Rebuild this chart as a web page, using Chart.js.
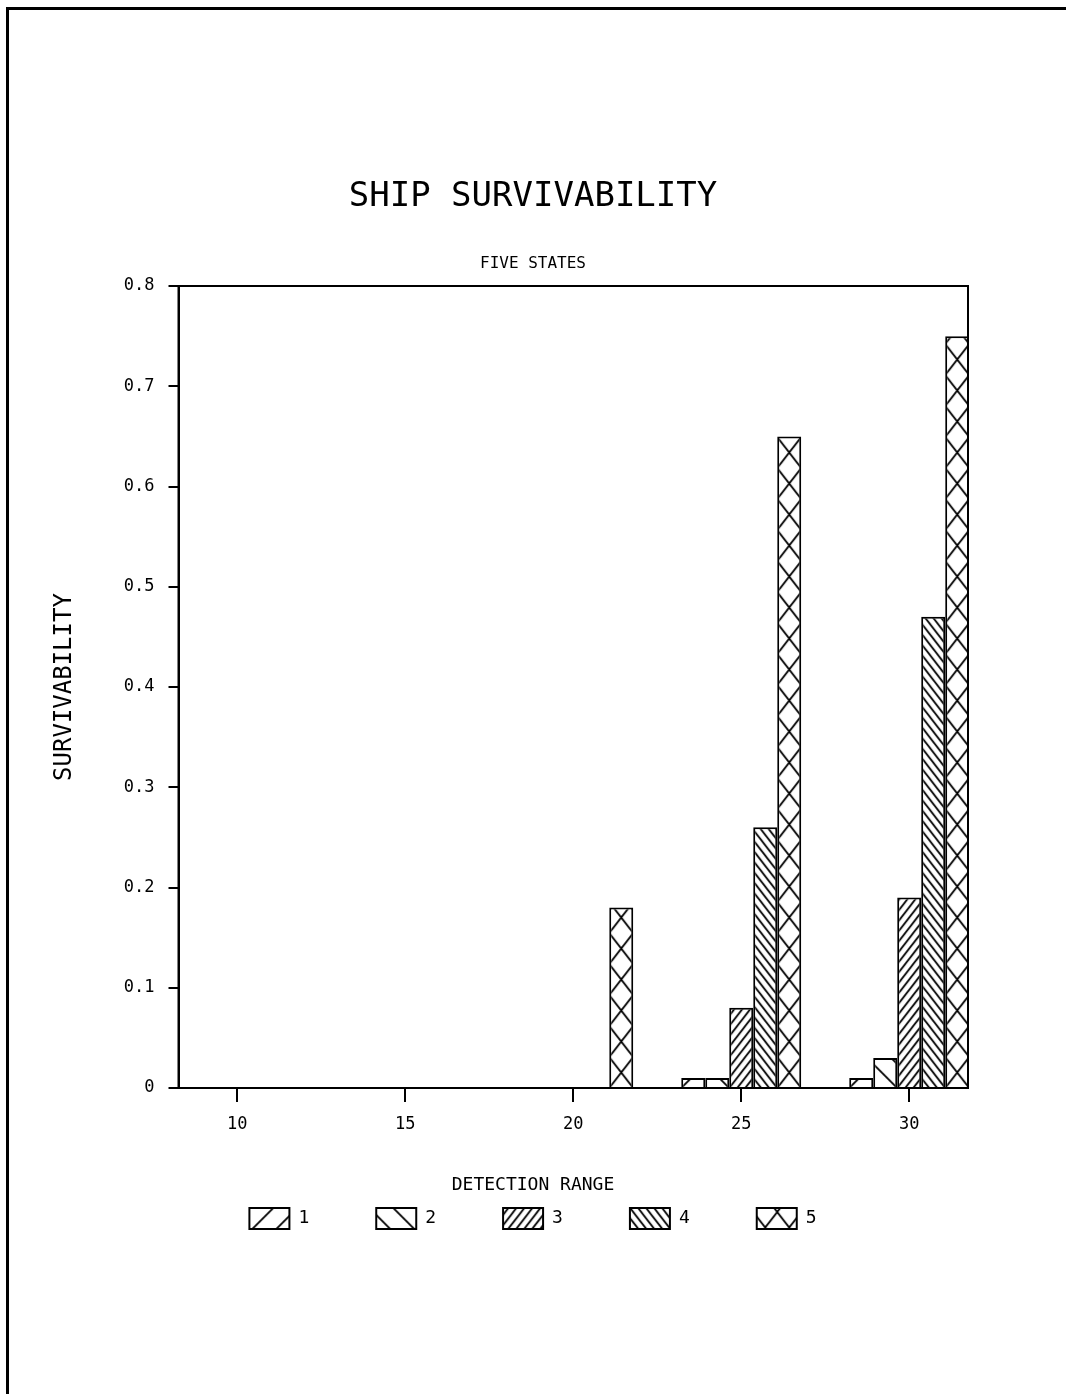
<!DOCTYPE html>
<html>
<head>
<meta charset="utf-8">
<title>Ship Survivability</title>
<script src="https://cdn.jsdelivr.net/npm/chart.js@4.4.1/dist/chart.umd.min.js"></script>
<style>
  html, body { margin: 0; padding: 0; background: #fff; }
  #wrap { position: relative; width: 1066px; height: 1394px; overflow: hidden; background: #fff; }
  #pageEdge {
    position: absolute; left: 6px; top: 7px; right: 0; bottom: 0;
    border-left: 3px solid #000; border-top: 3px solid #000;
    pointer-events: none;
  }
</style>
</head>
<body>
<div id="wrap">
  <canvas id="survChart" width="1066" height="1394"></canvas>
  <div id="pageEdge"></div>
</div>
<script>
/* ===== Ship survivability, five states ===== */

const ranges = [10, 15, 20, 25, 30];
const stateNames = ['1', '2', '3', '4', '5'];
const state1 = [0, 0, 0, 0.01, 0.01];
const state2 = [0, 0, 0, 0.01, 0.03];
const state3 = [0, 0, 0, 0.08, 0.19];
const state4 = [0, 0, 0, 0.26, 0.47];
const state5 = [0, 0, 0.18, 0.65, 0.75];
const yTicks = [0, 0.1, 0.2, 0.3, 0.4, 0.5, 0.6, 0.7, 0.8];

const FONT = "'DejaVu Sans Mono', monospace";
const CAT_PCT = 5 / 7;

// hatch look per state: dirs 1 = '/', -1 = '\', count = lines per tile, aspect = tile h / w
const hatchStyles = [
  { dirs: [1], count: 1, aspect: 1 },
  { dirs: [-1], count: 1, aspect: 1 },
  { dirs: [1], count: 3, aspect: 1.3 },
  { dirs: [-1], count: 3, aspect: 1.3 },
  { dirs: [1, -1], count: 1, aspect: 1.3 }
];

const patternCache = {};

function makeHatch(i, w, left, base, ctx) {
  const key = i + ':' + w.toFixed(2) + ':' + left.toFixed(2) + ':' + base.toFixed(2);
  if (patternCache[key]) return patternCache[key];
  const st = hatchStyles[i];
  const tw = Math.max(4, Math.round(w));
  const th = Math.round(tw * st.aspect);
  const c = document.createElement('canvas');
  c.width = tw;
  c.height = th;
  const g = c.getContext('2d');
  g.fillStyle = '#fff';
  g.fillRect(0, 0, tw, th);
  g.strokeStyle = '#000';
  g.lineWidth = 1.8;
  g.beginPath();
  st.dirs.forEach(dir => {
    for (let k = -2 * st.count; k <= 3 * st.count; k++) {
      const x0 = k * tw / st.count;
      if (dir === 1) {
        g.moveTo(x0 - tw, 2 * th);
        g.lineTo(x0 + 2 * tw, -th);
      } else {
        g.moveTo(x0 - tw, -th);
        g.lineTo(x0 + 2 * tw, 2 * th);
      }
    }
  });
  g.stroke();
  const pat = ctx.createPattern(c, 'repeat');
  pat.setTransform(new DOMMatrix().translate(left, base).scale(w / tw, 1));
  patternCache[key] = pat;
  return pat;
}

function hatchFor(i) {
  return (context) => {
    const chart = context.chart;
    const x = chart.scales.x;
    if (!x || !chart.chartArea) return '#fff';
    const p0 = x.getPixelForValue(ranges[0]);
    const step = x.getPixelForValue(ranges[1]) - p0;
    if (!isFinite(step) || step <= 0) return '#fff';
    const w = step * CAT_PCT / stateNames.length;
    const left = p0 + (i - stateNames.length / 2) * w;
    return makeHatch(i, w, left, chart.chartArea.bottom, chart.ctx);
  };
}

const plotFrame = {
  id: 'plotFrame',
  afterDatasetsDraw(chart) {
    const { ctx, chartArea: a } = chart;
    ctx.save();
    ctx.strokeStyle = '#000';
    ctx.lineWidth = 2;
    ctx.strokeRect(a.left, a.top, a.right - a.left, a.bottom - a.top);
    ctx.restore();
  }
};

Chart.defaults.font.family = FONT;
Chart.defaults.color = '#000';

const series = [state1, state2, state3, state4, state5];

new Chart(document.getElementById('survChart'), {
  type: 'bar',
  data: {
    labels: ranges,
    datasets: series.map((vals, i) => ({
      label: stateNames[i],
      data: vals,
      xAxisID: 'x',
      yAxisID: 'y',
      backgroundColor: hatchFor(i),
      borderColor: '#000',
      borderWidth: 2,
      borderSkipped: 'start',
      categoryPercentage: CAT_PCT,
      barPercentage: 1
    }))
  },
  options: {
    responsive: false,
    animation: false,
    layout: { padding: { top: 177, left: 0, right: 0, bottom: 155 } },
    plugins: {
      title: {
        display: true,
        text: 'SHIP SURVIVABILITY',
        color: '#000',
        font: { family: FONT, size: 34, weight: 'normal' },
        padding: { top: 0, bottom: 36 }
      },
      subtitle: {
        display: true,
        text: 'FIVE STATES',
        color: '#000',
        font: { family: FONT, size: 16, weight: 'normal' },
        padding: { top: 0, bottom: 13 }
      },
      legend: {
        position: 'bottom',
        title: {
          display: true,
          text: 'DETECTION RANGE',
          color: '#000',
          font: { family: FONT, size: 18 },
          padding: { top: 30, bottom: -57 }
        },
        labels: {
          boxWidth: 40,
          boxHeight: 21,
          padding: 67,
          color: '#000',
          font: { family: FONT, size: 18 }
        }
      },
      tooltip: { enabled: false }
    },
    scales: {
      x: {
        type: 'linear',
        position: 'bottom',
        min: 8.25,
        max: 31.75,
        offset: false,
        afterBuildTicks: s => { s.ticks = ranges.map(v => ({ value: v })); },
        grid: { display: true, drawOnChartArea: false, drawTicks: true, tickLength: 14, color: '#000', lineWidth: 2, offset: false },
        border: { display: true, color: '#000', width: 2 },
        ticks: { color: '#000', font: { size: 17 }, padding: 12, maxRotation: 0, autoSkip: false, callback: v => String(v) }
      },
      y: {
        type: 'linear',
        position: 'left',
        min: 0,
        max: 0.8,
        afterBuildTicks: s => { s.ticks = yTicks.map(v => ({ value: v })); },
        grid: { display: true, drawOnChartArea: false, drawTicks: true, tickLength: 10, color: '#000', lineWidth: 2 },
        border: { display: true, color: '#000', width: 2 },
        ticks: { color: '#000', font: { size: 17 }, padding: 14, callback: v => (v === 0 ? '0' : v.toFixed(1)) },
        title: {
          display: true,
          text: 'SURVIVABILITY',
          color: '#000',
          font: { family: FONT, size: 24 },
          padding: { top: 50, bottom: 31 }
        }
      },
      yR: {
        type: 'linear',
        position: 'right',
        display: true,
        grid: { display: false },
        ticks: { display: false },
        border: { display: false },
        afterFit: s => { s.width = 98; }
      }
    }
  },
  plugins: [plotFrame]
});
</script>
</body>
</html>
